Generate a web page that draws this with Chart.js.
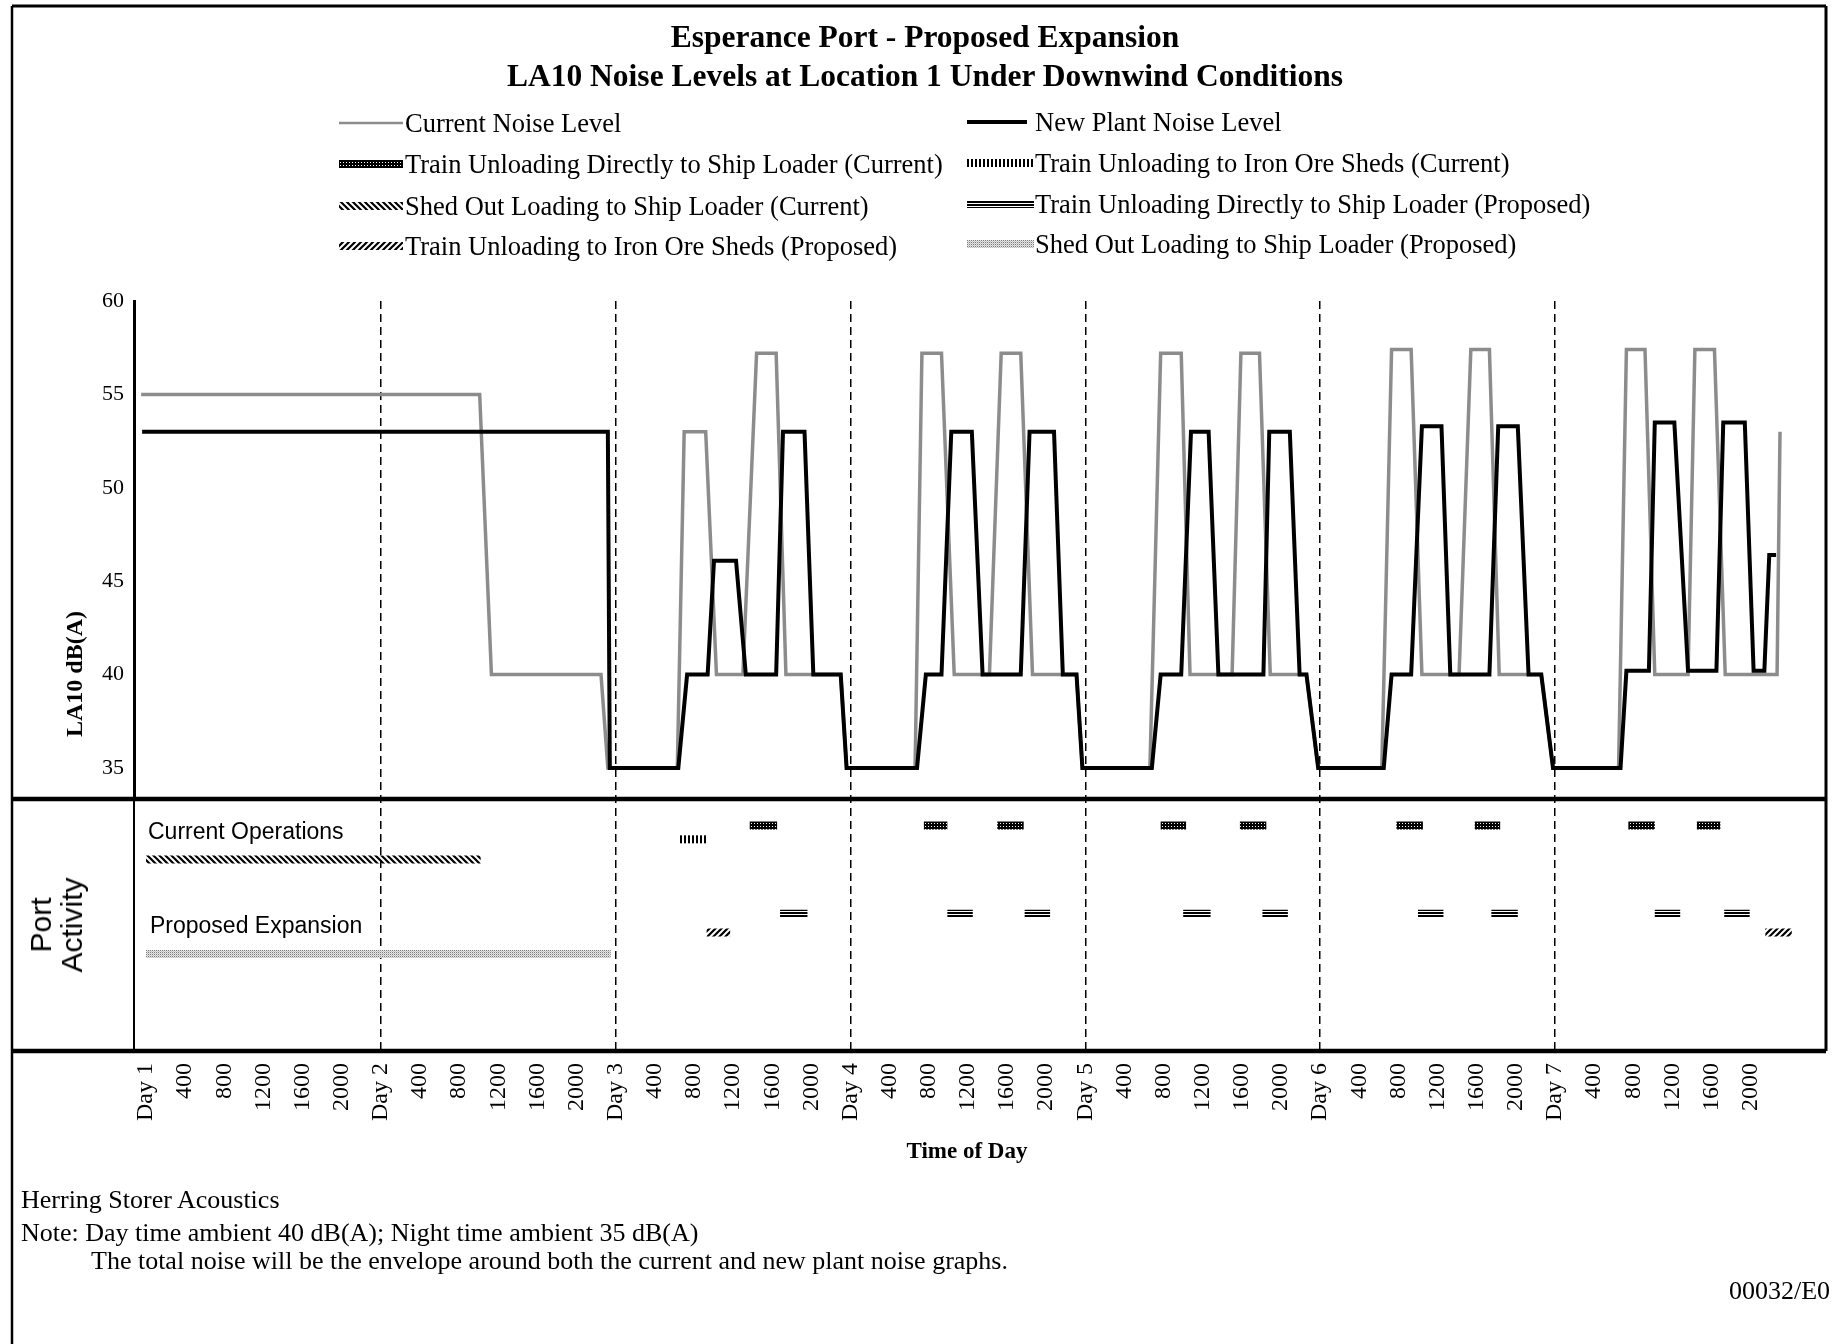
<!DOCTYPE html>
<html>
<head>
<meta charset="utf-8">
<title>Esperance Port - Proposed Expansion</title>
<script src="https://cdn.jsdelivr.net/npm/chart.js@4/dist/chart.umd.min.js"></script>
<style>
 html,body{margin:0;padding:0;background:#fff;}
 body{position:relative;width:1832px;height:1344px;overflow:hidden;font-family:"Liberation Serif","Times New Roman",serif;color:#000;}
 #chart{position:absolute;left:0;top:0;}
 .tx{position:absolute;white-space:nowrap;line-height:1;}
 .ttl{left:0;width:1850px;text-align:center;font-weight:bold;font-size:31.5px;}
 .leg{font-size:26.5px;}
 .sw{position:absolute;}
 .sans{font-family:"Liberation Sans",Arial,sans-serif;}
 .rot{transform:translate(-50%,-50%) rotate(-90deg);text-align:center;}
 .foot{font-size:26px;}
</style>
</head>
<body>
<canvas id="chart" width="1832" height="1344"></canvas>

<div class="tx ttl" style="top:21px">Esperance Port - Proposed Expansion</div>
<div class="tx ttl" style="top:60px">LA10 Noise Levels at Location 1 Under Downwind Conditions</div>

<canvas class="sw" id="sw0" width="64" height="12" style="left:339px;top:117px"></canvas>
<div class="tx leg" style="left:405px;top:110px">Current Noise Level</div>
<canvas class="sw" id="sw1" width="60" height="12" style="left:967px;top:116px"></canvas>
<div class="tx leg" style="left:1035px;top:109px">New Plant Noise Level</div>

<canvas class="sw" id="sw2" width="64" height="12" style="left:339px;top:158px"></canvas>
<div class="tx leg" style="left:405px;top:151px">Train Unloading Directly to Ship Loader (Current)</div>
<canvas class="sw" id="sw3" width="67" height="12" style="left:967px;top:157px"></canvas>
<div class="tx leg" style="left:1035px;top:150px">Train Unloading to Iron Ore Sheds (Current)</div>

<canvas class="sw" id="sw4" width="64" height="12" style="left:339px;top:200px"></canvas>
<div class="tx leg" style="left:405px;top:193px">Shed Out Loading to Ship Loader (Current)</div>
<canvas class="sw" id="sw5" width="67" height="12" style="left:967px;top:198px"></canvas>
<div class="tx leg" style="left:1035px;top:191px">Train Unloading Directly to Ship Loader (Proposed)</div>

<canvas class="sw" id="sw6" width="64" height="12" style="left:339px;top:240px"></canvas>
<div class="tx leg" style="left:405px;top:233px">Train Unloading to Iron Ore Sheds (Proposed)</div>
<canvas class="sw" id="sw7" width="67" height="12" style="left:967px;top:238px"></canvas>
<div class="tx leg" style="left:1035px;top:231px">Shed Out Loading to Ship Loader (Proposed)</div>

<div class="tx rot" style="left:74px;top:674px;font-weight:bold;font-size:24px;">LA10 dB(A)</div>
<div class="tx rot sans" style="left:56px;top:925px;font-size:30px;line-height:31px;">Port<br>Activity</div>
<div class="tx sans" style="left:148px;top:820px;font-size:23px;">Current Operations</div>
<div class="tx sans" style="left:150px;top:914px;font-size:23px;">Proposed Expansion</div>

<div class="tx" style="left:0;width:1934px;text-align:center;top:1139px;font-weight:bold;font-size:23px;">Time of Day</div>

<div class="tx foot" style="left:21px;top:1187px">Herring Storer Acoustics</div>
<div class="tx foot" style="left:21px;top:1220px">Note: Day time ambient 40 dB(A); Night time ambient 35 dB(A)</div>
<div class="tx foot" style="left:91px;top:1248px">The total noise will be the envelope around both the current and new plant noise graphs.</div>
<div class="tx foot" style="left:1729px;top:1278px">00032/E0</div>

<script>
// ---------------- DATA ----------------
// time in hours from Day 1 00:00
const newPlantT = [-0.4, 47.2, 47.4,
  54.4, 55.3, 57.4, 58.05, 60.3, 61.3, 64.4, 65.1, 67.3, 68.2, 71.0, 71.6,
  78.8, 79.7, 81.3, 82.3, 84.4, 85.5, 89.4, 90.3, 92.8, 93.7, 95.1, 95.7,
  102.8, 103.7, 105.8, 106.8, 108.6, 109.6, 114.2, 114.8, 116.9, 117.9, 118.6, 119.8,
  126.5, 127.3, 129.3, 130.4, 132.4, 133.3, 137.3, 138.2, 140.2, 141.3, 142.6, 143.8,
  150.7, 151.3, 153.6, 154.2, 156.2, 157.6, 160.5, 161.2, 163.4, 164.3, 165.4, 165.9, 166.6];
const newPlantDb = [53, 53, 35,
  35, 40, 40, 46.1, 46.1, 40, 40, 53, 53, 40, 40, 35,
  35, 40, 40, 53, 53, 40, 40, 53, 53, 40, 40, 35,
  35, 40, 40, 53, 53, 40, 40, 53, 53, 40, 40, 35,
  35, 40, 40, 53.3, 53.3, 40, 40, 53.3, 53.3, 40, 40, 35,
  35, 40.2, 40.2, 53.5, 53.5, 40.2, 40.2, 53.5, 53.5, 40.2, 40.2, 46.4, 46.4];

const currentT = [-0.5, 34.1, 35.3, 46.5, 47.2,
  54.3, 55.0, 57.2, 58.3, 61.0, 62.4, 64.4, 65.4, 71.0, 71.6,
  78.6, 79.3, 81.3, 82.6, 86.2, 87.4, 89.4, 90.6, 95.1, 95.7,
  102.6, 103.7, 105.8, 106.7, 111.0, 111.9, 113.8, 114.9, 118.6, 119.8,
  126.3, 127.3, 129.3, 130.4, 134.2, 135.4, 137.3, 138.3, 142.6, 143.8,
  150.5, 151.3, 153.2, 154.2, 157.6, 158.3, 160.3, 161.4, 166.7, 167.0];
const currentDb = [55, 55, 40, 40, 35,
  35, 53, 53, 40, 40, 57.2, 57.2, 40, 40, 35,
  35, 57.2, 57.2, 40, 40, 57.2, 57.2, 40, 40, 35,
  35, 57.2, 57.2, 40, 40, 57.2, 57.2, 40, 40, 35,
  35, 57.4, 57.4, 40, 40, 57.4, 57.4, 40, 40, 35,
  35, 57.4, 57.4, 40, 40, 57.4, 57.4, 40, 40, 53];

// port activity periods [start hour, end hour]
const trainDirectCurrent = [[61.7,64.5],[79.5,81.9],[87.0,89.7],[103.7,106.3],[111.8,114.5],[127.8,130.5],[135.8,138.4],[151.5,154.2],[158.5,160.9]];
const trainShedsCurrent = [[54.5,57.3]];
const shedOutCurrent = [[0,34.2]];
const trainDirectProposed = [[64.8,67.6],[81.9,84.5],[89.8,92.4],[106.0,108.8],[114.1,116.7],[130.0,132.6],[137.5,140.2],[154.2,156.8],[161.3,163.9]];
const trainShedsProposed = [[57.3,59.7],[165.5,168.2]];
const shedOutProposed = [[0,47.5]];

// tick labels
const dayLabels = ['Day 1','Day 2','Day 3','Day 4','Day 5','Day 6','Day 7'];
const hourLabels = ['400','800','1200','1600','2000'];
const yTickValues = [35, 40, 45, 50, 55, 60];

// ---------------- HELPERS ----------------
const xTickValues = [], xTickText = {};
dayLabels.forEach((d, i) => {
  xTickValues.push(i*24); xTickText[i*24] = d;
  hourLabels.forEach((h, k) => { const v = i*24 + 4*(k+1); xTickValues.push(v); xTickText[v] = h; });
});

function series(ts, vs){ return ts.map((t,i)=>({x:t, y:vs[i]})); }
function bars(intervals, level){
  const out = [];
  intervals.forEach(([a,b], i) => {
    if (i) out.push({x:(a + intervals[i-1][1])/2, y:null});
    out.push({x:a, y:level}, {x:b, y:level});
  });
  return out;
}

function makePattern(ctx, kind){
  const t = document.createElement('canvas');
  let g;
  if (kind === 'checker') {
    t.width = 3; t.height = 3; g = t.getContext('2d');
    g.fillStyle = '#000'; g.fillRect(0,0,3,3);
    g.fillStyle = '#fff'; g.fillRect(1,1,1,1);
  } else if (kind === 'vlines') {
    t.width = 4; t.height = 4; g = t.getContext('2d');
    g.fillStyle = '#000'; g.fillRect(0,0,2,4);
  } else if (kind === 'bslash' || kind === 'fslash') {
    t.width = 6; t.height = 6; g = t.getContext('2d');
    g.strokeStyle = '#000'; g.lineWidth = 2.2; g.beginPath();
    if (kind === 'bslash') {
      g.moveTo(-1,-1); g.lineTo(7,7); g.moveTo(5,-1); g.lineTo(7,1); g.moveTo(-1,5); g.lineTo(1,7);
    } else {
      g.moveTo(-1,7); g.lineTo(7,-1); g.moveTo(-1,1); g.lineTo(1,-1); g.moveTo(5,7); g.lineTo(7,5);
    }
    g.stroke();
  } else if (kind === 'hlines') {
    t.width = 4; t.height = 3; g = t.getContext('2d');
    g.fillStyle = '#000'; g.fillRect(0,0,4,2);
  } else if (kind === 'dots') {
    t.width = 2; t.height = 2; g = t.getContext('2d');
    g.fillStyle = '#e6e6e6'; g.fillRect(0,0,2,2);
    g.fillStyle = '#7a7a7a'; g.fillRect(0,0,1,1);
    g.fillStyle = '#c4c4c4'; g.fillRect(1,1,1,1);
  }
  return ctx.createPattern(t, 'repeat');
}

// legend swatches
function swatchLine(id, color, w){
  const c = document.getElementById(id), g = c.getContext('2d');
  g.strokeStyle = color; g.lineWidth = w; g.beginPath(); g.moveTo(0, 6); g.lineTo(c.width, 6); g.stroke();
}
function swatchPat(id, kind){
  const c = document.getElementById(id), g = c.getContext('2d');
  g.fillStyle = makePattern(g, kind); g.fillRect(0, 2, c.width, 8);
}
swatchLine('sw0', '#8c8c8c', 2.5);
swatchLine('sw1', '#000', 4);
swatchPat('sw2', 'checker');
swatchPat('sw3', 'vlines');
swatchPat('sw4', 'bslash');
swatchPat('sw5', 'hlines');
swatchPat('sw6', 'fslash');
swatchPat('sw7', 'dots');

// ---------------- CHART ----------------
const canvas = document.getElementById('chart');
const ctx = canvas.getContext('2d');

const framePlugin = {
  id: 'frame',
  afterDraw(chart){
    const c = chart.ctx, ya = chart.scales.y, ca = chart.chartArea;
    const seg = (x1,y1,x2,y2) => { c.beginPath(); c.moveTo(x1,y1); c.lineTo(x2,y2); c.stroke(); };
    c.save(); c.strokeStyle = '#000'; c.lineCap = 'butt';
    c.lineWidth = 4.5;
    seg(12, ya.bottom, 1826, ya.bottom);
    seg(12, ca.bottom, 1826, ca.bottom);
    c.lineWidth = 3;
    seg(12, 6, 1826, 6);
    seg(1826, 6, 1826, ca.bottom);
    c.lineWidth = 2.5;
    seg(12, 6, 12, 1344);
    c.restore();
  }
};

const actCommon = {yAxisID:'yA', borderWidth:8, borderCapStyle:'butt', pointRadius:0, fill:false, spanGaps:false};

new Chart(ctx, {
  type: 'line',
  data: {
    datasets: [
      {label:'New Plant Noise Level', data: series(newPlantT, newPlantDb), yAxisID:'y',
       borderColor:'#000', borderWidth:4, borderJoinStyle:'miter', pointRadius:0, fill:false},
      {label:'Current Noise Level', data: series(currentT, currentDb), yAxisID:'y',
       borderColor:'#8c8c8c', borderWidth:3.5, borderJoinStyle:'miter', pointRadius:0, fill:false},
      Object.assign({label:'Train Unloading Directly to Ship Loader (Current)', data: bars(trainDirectCurrent, 8.95), borderColor: makePattern(ctx,'checker')}, actCommon),
      Object.assign({label:'Train Unloading to Iron Ore Sheds (Current)', data: bars(trainShedsCurrent, 8.4), borderColor: makePattern(ctx,'vlines')}, actCommon),
      Object.assign({label:'Shed Out Loading to Ship Loader (Current)', data: bars(shedOutCurrent, 7.6), borderColor: makePattern(ctx,'bslash')}, actCommon),
      Object.assign({label:'Train Unloading Directly to Ship Loader (Proposed)', data: bars(trainDirectProposed, 5.45), borderColor: makePattern(ctx,'hlines')}, actCommon),
      Object.assign({label:'Train Unloading to Iron Ore Sheds (Proposed)', data: bars(trainShedsProposed, 4.7), borderColor: makePattern(ctx,'fslash')}, actCommon),
      Object.assign({label:'Shed Out Loading to Ship Loader (Proposed)', data: bars(shedOutProposed, 3.85), borderColor: makePattern(ctx,'dots')}, actCommon)
    ]
  },
  options: {
    responsive: false,
    animation: false,
    devicePixelRatio: 1,
    layout: {padding: {top: 301, left: 0, right: 6, bottom: 213}},
    plugins: {legend: {display:false}, tooltip: {enabled:false}, title: {display:false}},
    elements: {line: {tension: 0}, point: {radius: 0}},
    scales: {
      x: {
        type: 'linear', position: 'bottom', min: -1.23, max: 171.7,
        afterBuildTicks: s => { s.ticks = xTickValues.map(v => ({value: v})); },
        afterFit: s => { s.height = 80; },
        ticks: {autoSkip: false, minRotation: 90, maxRotation: 90, padding: 12, color: '#000',
                font: {family: "'Liberation Serif', serif", size: 24},
                callback: v => xTickText[v]},
        grid: {display: true, drawTicks: false, lineWidth: 1.5,
               color: c => (c.tick && c.tick.value > 0 && c.tick.value % 24 === 0) ? '#000' : 'rgba(0,0,0,0)'},
        border: {display: false, dash: [8, 5]}
      },
      yA: {
        type: 'linear', position: 'left', stack: 'v', stackWeight: 252, min: 0, max: 10,
        afterFit: s => { s.width = 134; },
        ticks: {display: false},
        grid: {display: false, drawTicks: false},
        border: {display: true, width: 2, color: '#000'}
      },
      y: {
        type: 'linear', position: 'left', stack: 'v', stackWeight: 498, min: 33.34, max: 60,
        afterBuildTicks: s => { s.ticks = yTickValues.map(v => ({value: v})); },
        afterFit: s => { s.width = 134; },
        ticks: {padding: 10, color: '#000', font: {family: "'Liberation Serif', serif", size: 22},
                callback: v => String(v)},
        grid: {display: false, drawTicks: false},
        border: {display: true, width: 3, color: '#000'}
      }
    }
  },
  plugins: [framePlugin]
});
</script>
</body>
</html>
